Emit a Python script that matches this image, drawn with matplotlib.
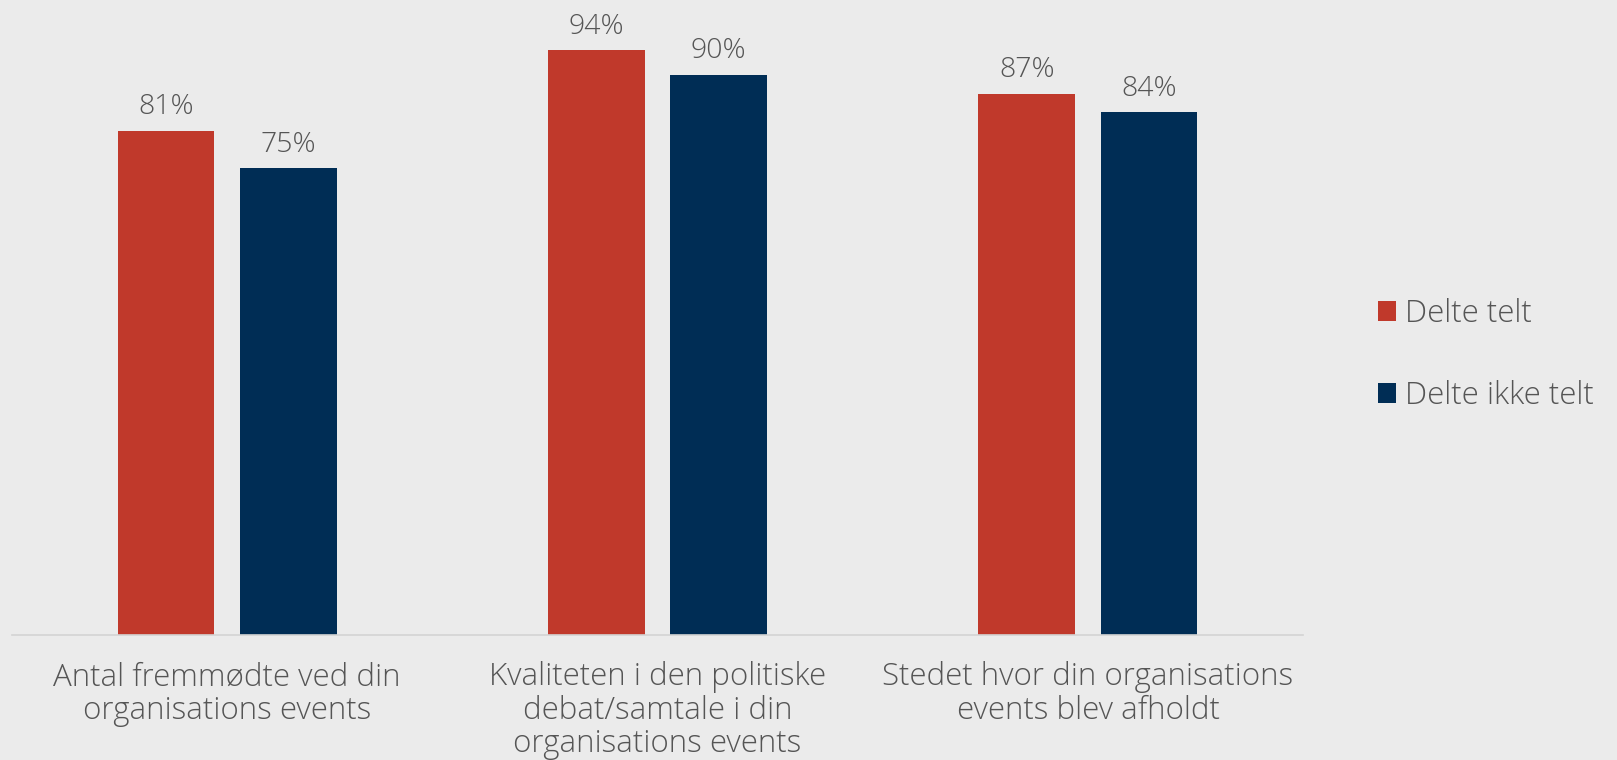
import matplotlib.pyplot as plt
import numpy as np

categories = ["Antal fremmødte ved din\norganisations events",
              "Kvaliteten i den politiske\ndebat/samtale i din\norganisations events",
              "Stedet hvor din organisations\nevents blev afholdt"]
delte_telt = [81, 94, 87]
delte_ikke_telt = [75, 90, 84]
series_names = ["Delte telt", "Delte ikke telt"]

red = "#C0392B"
blue = "#002D55"
bg = "#EBEBEB"
txt = "#555555"

plt.rcParams['font.family'] = ['Open Sans', 'DejaVu Sans']

fig = plt.figure(figsize=(16.17, 7.6), dpi=100, facecolor=bg)
ax = fig.add_axes([0.0074, 0.1645, 0.7985, 0.8185])
ax.set_facecolor(bg)

x = np.arange(len(categories))
w = 0.225
off = 0.142
b1 = ax.bar(x - off, delte_telt, w, color=red, label=series_names[0])
b2 = ax.bar(x + off, delte_ikke_telt, w, color=blue, label=series_names[1])

for bars, vals in ((b1, delte_telt), (b2, delte_ikke_telt)):
    for b, v in zip(bars, vals):
        ax.annotate(f"{v}%", (b.get_x() + b.get_width() / 2, v),
                    xytext=(0, 7), textcoords="offset points",
                    ha="center", va="bottom", fontsize=20.5,
                    color=txt, fontweight="light")

ax.set_xlim(-0.5, 2.5)
ax.set_ylim(0, 100)
ax.set_yticks([])
ax.set_xticks(x)
ax.set_xticklabels(categories, fontsize=22.5, color=txt, fontweight="light",
                   linespacing=1.05)
ax.tick_params(axis="x", length=0, pad=19)
for s in ["top", "left", "right"]:
    ax.spines[s].set_visible(False)
ax.spines["bottom"].set_color("#D4D4D4")
ax.spines["bottom"].set_linewidth(1.2)

leg = ax.legend(loc="center left", bbox_to_anchor=(1.036, 0.45), frameon=False,
                fontsize=22.5, labelspacing=1.6, handlelength=0.58,
                handleheight=0.58, handletextpad=0.3)
for t in leg.get_texts():
    t.set_color(txt)
    t.set_fontweight("light")

fig.savefig("out.png", dpi=100, facecolor=bg)
